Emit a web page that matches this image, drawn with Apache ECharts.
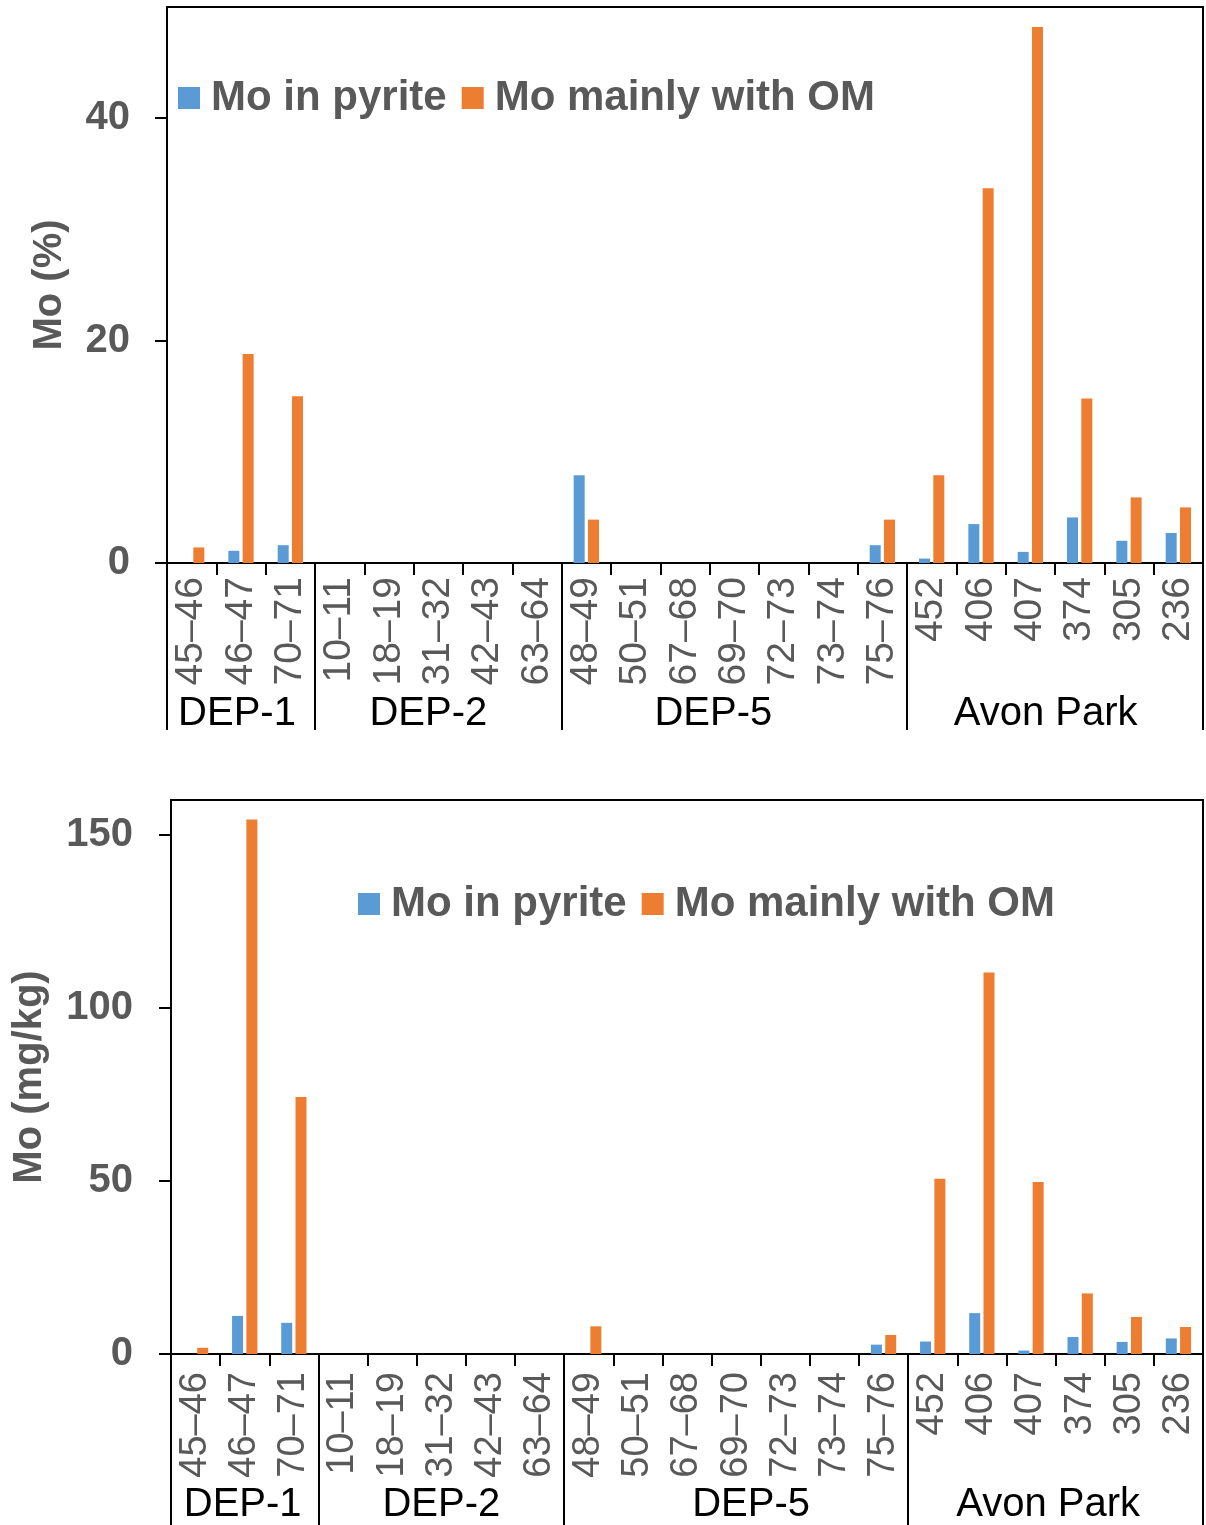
<!DOCTYPE html>
<html>
<head>
<meta charset="utf-8">
<script src="https://cdn.jsdelivr.net/npm/echarts@6/dist/echarts.min.js"></script>
<style>
html,body{margin:0;padding:0;background:#fff;}
#chart{width:1206px;height:1525px;}
</style>
</head>
<body>
<div id="chart"></div>
<script>
// ---- data ----
const categories = ['45–46','46–47','70–71','10–11','18–19','31–32','42–43','63–64','48–49','50–51','67–68','69–70','72–73','73–74','75–76','452','406','407','374','305','236'];
const groupNames = ['DEP-1','DEP-2','DEP-5','Avon Park'];
const groupSizes = [3,5,7,6];
const seriesNames = ['Mo in pyrite','Mo mainly with OM'];
const pctPyrite = [0,1.1,1.6,0,0,0,0,0,7.9,0,0,0,0,0,1.6,0.4,3.5,1.0,4.1,2.0,2.7];
const pctOM     = [1.4,18.8,15.0,0,0,0,0,0,3.9,0,0,0,0,0,3.9,7.9,33.7,48.2,14.8,5.9,5.0];
const mgPyrite  = [0,11.0,9.0,0,0,0,0,0,0,0,0,0,0,0,2.7,3.6,11.8,1.0,4.9,3.5,4.5];
const mgOM      = [1.8,154.4,74.2,0,0,0,0,0,8.0,0,0,0,0,0,5.5,50.6,110.2,49.7,17.5,10.7,7.8];
const yTicksPct = [0,20,40];
const yTicksMg  = [0,50,100,150];
const yNamePct = 'Mo (%)';
const yNameMg  = 'Mo (mg/kg)';

// ---- derived group info ----
const groupStart = [];
const groupLabelIdx = {};
let acc = 0;
groupSizes.forEach((s, g) => {
  groupStart.push(acc);
  groupLabelIdx[acc + Math.floor(s / 2)] = g;
  acc += s;
});

// ---- styles ----
const FONT = "'Liberation Sans', Arial, sans-serif";
const GRAY = '#595959';
const BLUE = '#5B9BD5';
const ORANGE = '#ED7D31';
const shiftsTop = [-4, -10, -21, -34];
const shiftsBot = [-2, 0, 15, -32];

function groupRich(shifts) {
  const rich = {};
  shifts.forEach((s, g) => {
    rich['g' + g] = {
      fontFamily: FONT, fontSize: 40, color: '#000',
      padding: s < 0 ? [0, -2 * s, 0, 0] : [0, 0, 0, 2 * s]
    };
  });
  return rich;
}

function xAxes(gridIndex, shifts, tickLen, groupMargin, catFont, catMargin) {
  return [
    {
      type: 'category', gridIndex, data: categories, position: 'bottom',
      axisLine: {show: true, onZero: false, lineStyle: {color: '#000', width: 2}},
      axisTick: {show: true, length: 12, lineStyle: {color: '#000', width: 2}},
      axisLabel: {interval: 0, rotate: 90, fontFamily: FONT, fontSize: catFont, color: GRAY, margin: catMargin},
      splitLine: {show: false}
    },
    {
      type: 'category', gridIndex, data: categories, position: 'bottom',
      axisLine: {show: false},
      axisTick: {show: true, length: tickLen, lineStyle: {color: '#000', width: 2},
        interval: function (idx) { return groupStart.indexOf(idx) >= 0; }},
      axisLabel: {
        interval: 0, margin: groupMargin,
        formatter: function (v, idx) {
          const g = groupLabelIdx[idx];
          return g === undefined ? '' : '{g' + g + '|' + groupNames[g] + '}';
        },
        rich: groupRich(shifts)
      },
      splitLine: {show: false}
    }
  ];
}

function yAxis(gridIndex, max, ticks, name, nameGap, margin) {
  return {
    type: 'value', gridIndex, min: 0, max: max,
    name: name, nameLocation: 'middle', nameGap: nameGap,
    nameTextStyle: {fontFamily: FONT, fontSize: 40, fontWeight: 'bold', color: GRAY},
    axisLine: {show: true, lineStyle: {color: '#000', width: 2}},
    axisTick: {show: true, length: 12, customValues: ticks, lineStyle: {color: '#000', width: 2}},
    axisLabel: {customValues: ticks, fontFamily: FONT, fontSize: 40, fontWeight: 'bold', color: GRAY, margin: margin},
    splitLine: {show: false}
  };
}

function bar(name, data, xi, yi, color) {
  return {
    type: 'bar', name, data, xAxisIndex: xi, yAxisIndex: yi,
    barWidth: 11, barGap: '30%',
    itemStyle: {color},
    emphasis: {disabled: true}
  };
}

const legendCommon = {
  data: seriesNames, itemWidth: 22, itemHeight: 22, itemGap: 15,
  icon: 'rect', selectedMode: false,
  textStyle: {fontFamily: FONT, fontSize: 42, fontWeight: 'bold', color: GRAY, padding: [0, 0, 0, 6]}
};

const option = {
  animation: false,
  backgroundColor: '#fff',
  color: [BLUE, ORANGE],
  grid: [
    {left: 167, top: 7, width: 1036, height: 556, show: true, borderColor: '#000', borderWidth: 2, containLabel: false},
    {left: 171, top: 800, width: 1032, height: 556, show: true, borderColor: '#000', borderWidth: 2, containLabel: false}
  ],
  legend: [
    Object.assign({left: 173, top: 72}, legendCommon),
    Object.assign({left: 353, top: 878}, legendCommon)
  ],
  xAxis: [].concat(
    xAxes(0, shiftsTop, 167, 131, 39, 14),
    xAxes(1, shiftsBot, 172, 131, 38, 18)
  ),
  yAxis: [
    yAxis(0, 50, yTicksPct, yNamePct, 97, 37),
    yAxis(1, 160, yTicksMg, yNameMg, 121, 38)
  ],
  series: [
    bar(seriesNames[0], pctPyrite, 0, 0, BLUE),
    bar(seriesNames[1], pctOM, 0, 0, ORANGE),
    bar(seriesNames[0], mgPyrite, 2, 1, BLUE),
    bar(seriesNames[1], mgOM, 2, 1, ORANGE)
  ]
};

const chart = echarts.init(document.getElementById('chart'), null, {renderer: 'canvas'});
chart.setOption(option);
</script>
</body>
</html>
